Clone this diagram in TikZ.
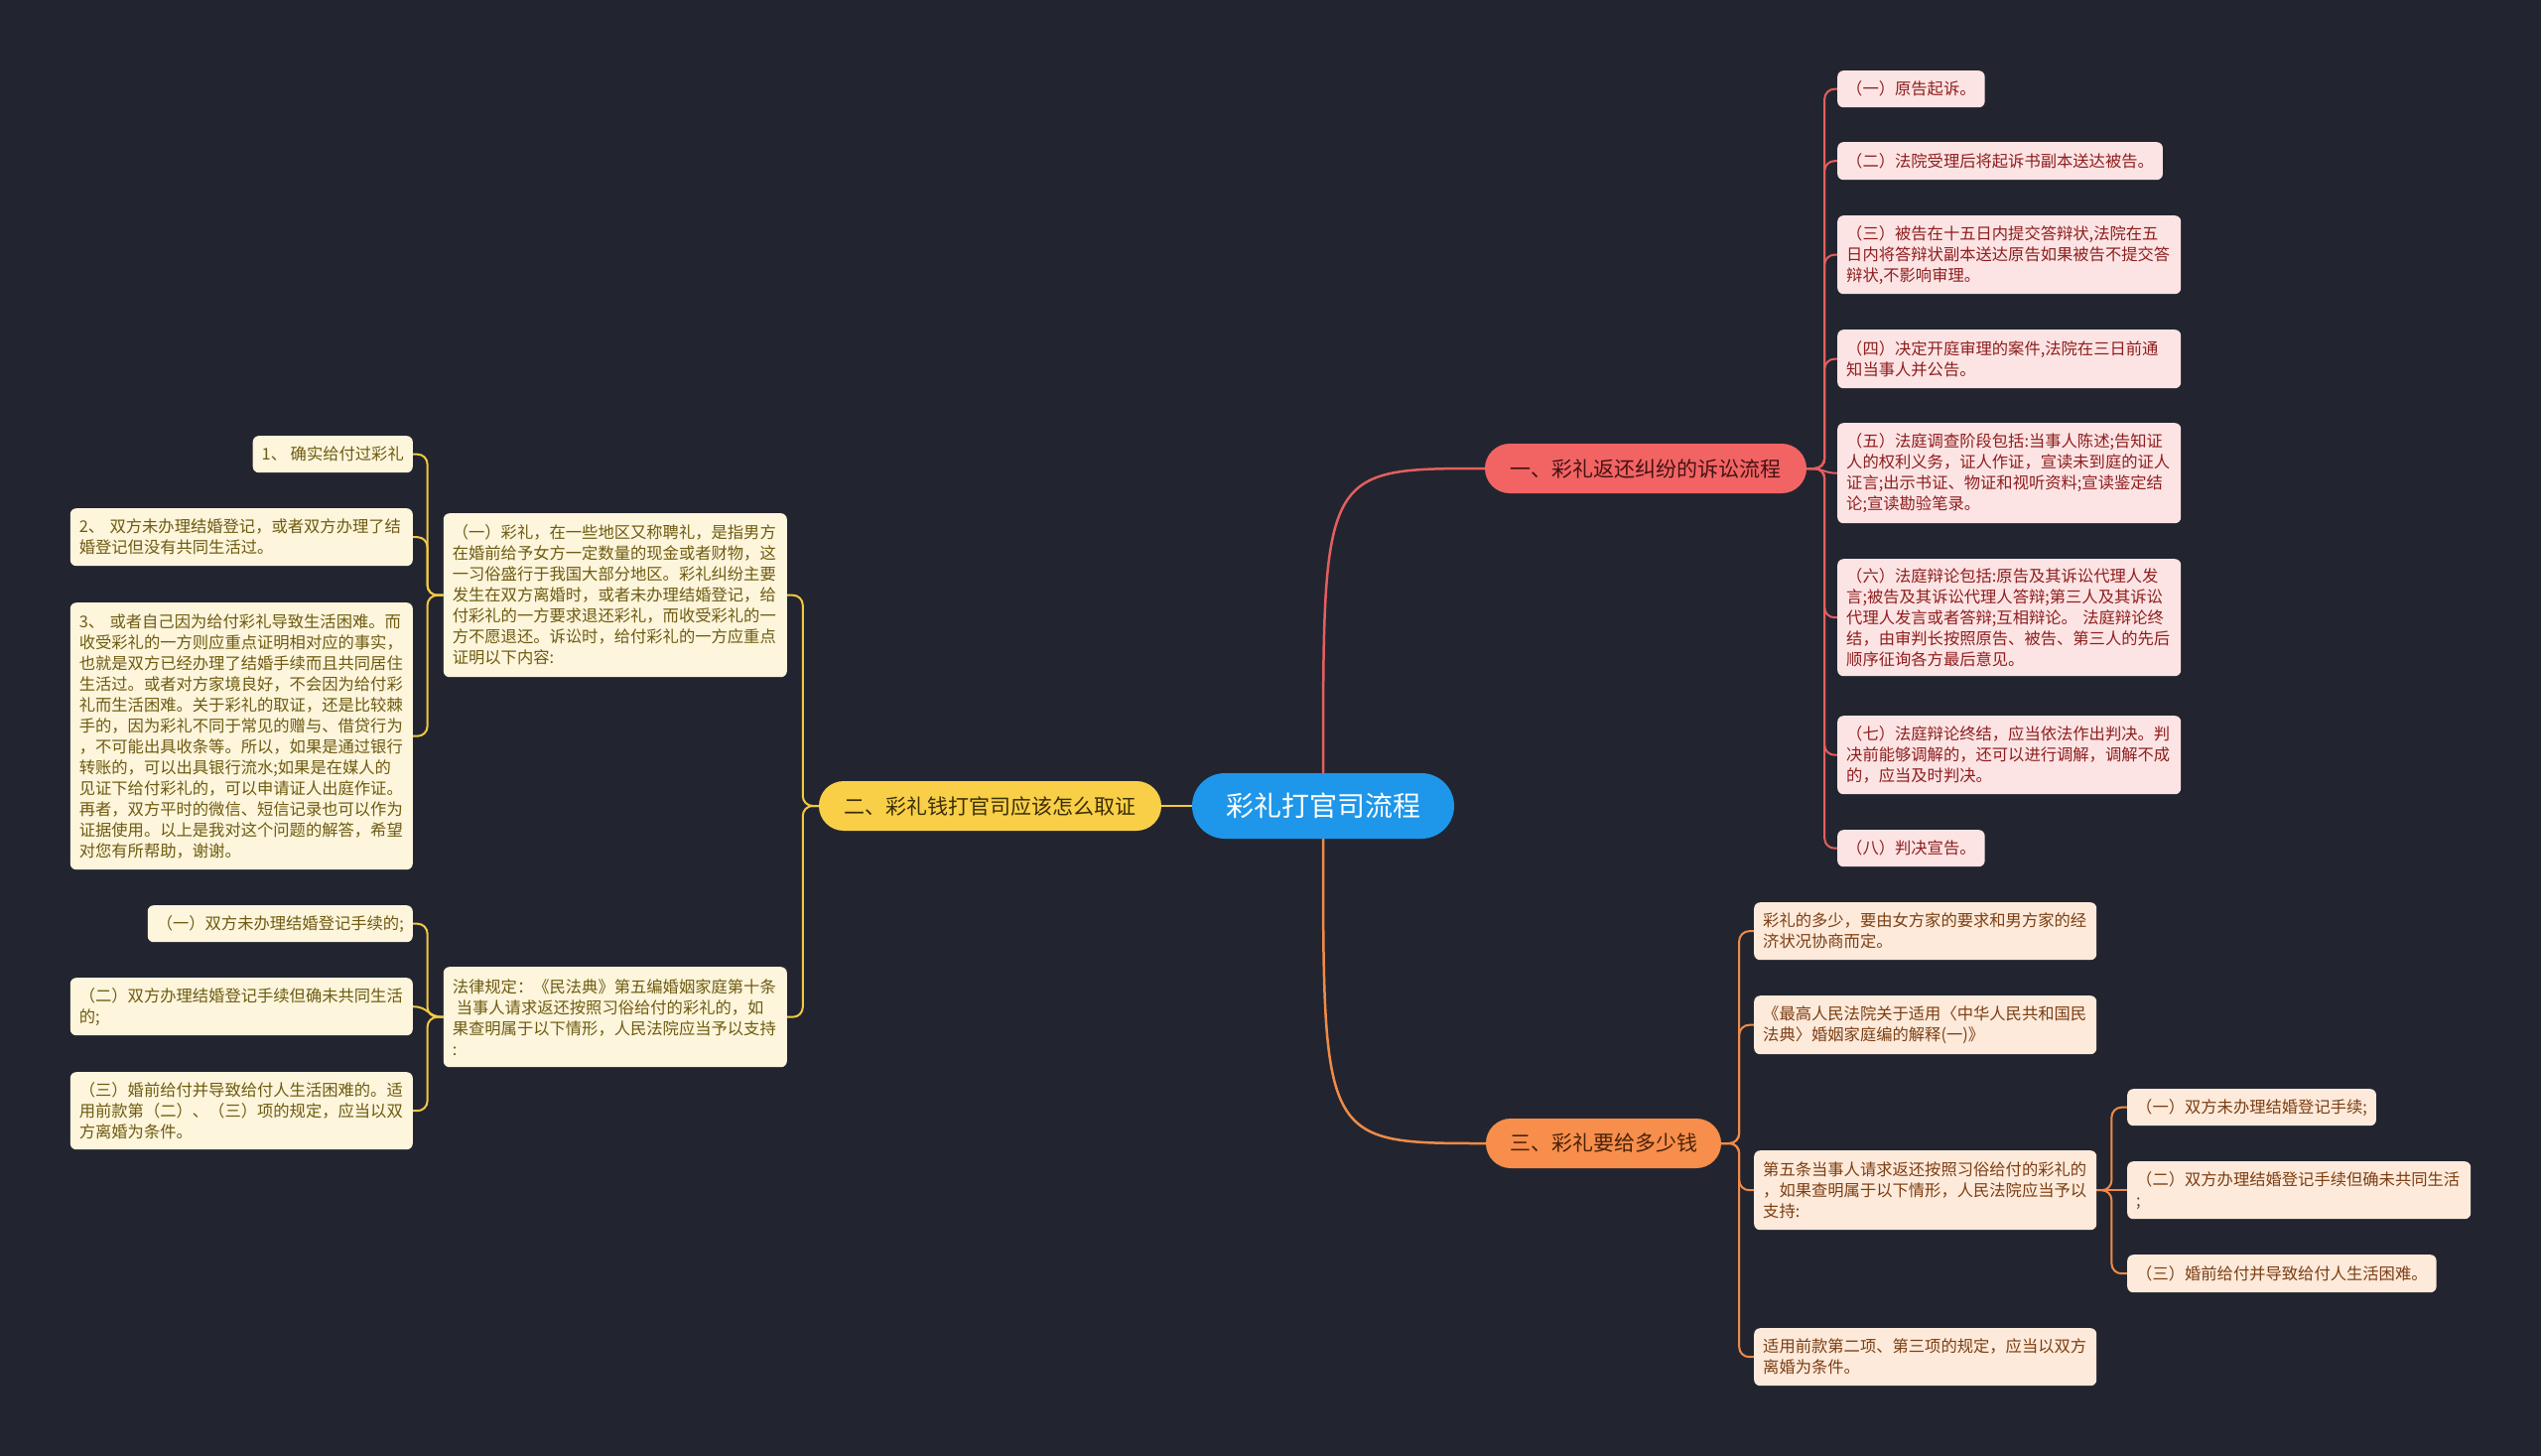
\documentclass[tikz,border=0pt]{standalone}
\usepackage{fontspec}
\setmainfont{Noto Sans CJK SC}
\definecolor{bgc}{HTML}{22252F}
\definecolor{cblue}{HTML}{1E96EA}
\definecolor{redB}{HTML}{F26464}
\definecolor{redBT}{HTML}{451212}
\definecolor{redL}{HTML}{FDE4E4}
\definecolor{redT}{HTML}{8E1E1E}
\definecolor{redC}{HTML}{E35F5F}
\definecolor{yelB}{HTML}{F9CF48}
\definecolor{yelBT}{HTML}{3A2F05}
\definecolor{yelL}{HTML}{FDF5DC}
\definecolor{yelT}{HTML}{6E5B10}
\definecolor{yelC}{HTML}{F3C843}
\definecolor{oraB}{HTML}{F78E4C}
\definecolor{oraBT}{HTML}{4A2208}
\definecolor{oraL}{HTML}{FDEADB}
\definecolor{oraT}{HTML}{7C3E12}
\definecolor{oraC}{HTML}{F08B47}
\pgfdeclarelayer{back}
\pgfdeclarelayer{edges}
\pgfsetlayers{back,edges,main}
\tikzset{
  leaf/.style={rounded corners=6pt, inner xsep=9pt, inner ysep=0pt, align=left,
    font=\fontsize{16.3}{21}\selectfont},
  rleaf/.style={leaf, anchor=north west, fill=redL, text=redT},
  oleaf/.style={leaf, anchor=north west, fill=oraL, text=oraT},
  yleaf/.style={leaf, anchor=north east, fill=yelL, text=yelT},
  branch/.style={rounded corners=25pt, inner sep=0pt, minimum height=50pt,
    font=\fontsize{21}{25}\selectfont},
  cnode/.style={rounded corners=33pt, inner sep=0pt, fill=cblue, text=white,
    font=\fontsize{28}{32}\selectfont},
  rcon/.style={draw=redC, line width=2pt, rounded corners=10pt},
  ocon/.style={draw=oraC, line width=2pt, rounded corners=10pt},
  ycon/.style={draw=yelC, line width=2pt, rounded corners=10pt},
}
\begin{document}
\begin{tikzpicture}[x=1pt,y=-1pt]
\begin{pgfonlayer}{back}
\fill[bgc] (0,0) rectangle (2560,1467);
\end{pgfonlayer}
\useasboundingbox (0,0) rectangle (2560,1467);

% center and branches
\node[cnode, minimum width=264pt, minimum height=66pt] (c) at (1333,812) {彩礼打官司流程};
\node[branch, fill=redB, text=redBT, minimum width=324pt] (b1) at (1658,472) {一、彩礼返还纠纷的诉讼流程};
\node[branch, fill=yelB, text=yelBT, minimum width=345pt] (b2) at (997.5,812) {二、彩礼钱打官司应该怎么取证};
\node[branch, fill=oraB, text=oraBT, minimum width=237pt] (b3) at (1615.5,1152) {三、彩礼要给多少钱};

% red leaves
\node[rleaf, minimum height=37pt] (r1) at (1851,71) {（一）原告起诉。};
\node[rleaf, minimum height=38pt] (r2) at (1851,143) {（二）法院受理后将起诉书副本送达被告。};
\node[rleaf, text width=328pt, minimum height=79pt] (r3) at (1851,217) {（三）被告在十五日内提交答辩状,法院在五\\日内将答辩状副本送达原告如果被告不提交答\\辩状,不影响审理。};
\node[rleaf, text width=328pt, minimum height=59pt] (r4) at (1851,332) {（四）决定开庭审理的案件,法院在三日前通\\知当事人并公告。};
\node[rleaf, text width=328pt, minimum height=101pt] (r5) at (1851,426) {（五）法庭调查阶段包括:当事人陈述;告知证\\人的权利义务，证人作证，宣读未到庭的证人\\证言;出示书证、物证和视听资料;宣读鉴定结\\论;宣读勘验笔录。};
\node[rleaf, text width=328pt, minimum height=118pt] (r6) at (1851,563) {（六）法庭辩论包括:原告及其诉讼代理人发\\言;被告及其诉讼代理人答辩;第三人及其诉讼\\代理人发言或者答辩;互相辩论。 法庭辩论终\\结，由审判长按照原告、被告、第三人的先后\\顺序征询各方最后意见。};
\node[rleaf, text width=328pt, minimum height=79pt] (r7) at (1851,721) {（七）法庭辩论终结，应当依法作出判决。判\\决前能够调解的，还可以进行调解，调解不成\\的，应当及时判决。};
\node[rleaf, minimum height=37pt] (r8) at (1851,836) {（八）判决宣告。};

% orange leaves
\node[oleaf, text width=327pt, minimum height=58pt] (o1) at (1767,909) {彩礼的多少，要由女方家的要求和男方家的经\\济状况协商而定。};
\node[oleaf, text width=327pt, minimum height=59pt] (o2) at (1767,1003) {《最高人民法院关于适用〈中华人民共和国民\\法典〉婚姻家庭编的解释(一)》};
\node[oleaf, text width=327pt, minimum height=80pt] (o3) at (1767,1159) {第五条当事人请求返还按照习俗给付的彩礼的\\，如果查明属于以下情形，人民法院应当予以\\支持:};
\node[oleaf, text width=327pt, minimum height=58pt] (o4) at (1767,1338) {适用前款第二项、第三项的规定，应当以双方\\离婚为条件。};
\node[oleaf, minimum height=37pt] (s1) at (2143,1097) {（一）双方未办理结婚登记手续;};
\node[oleaf, text width=328pt, minimum height=58pt] (s2) at (2143,1170) {（二）双方办理结婚登记手续但确未共同生活\\;};
\node[oleaf, minimum height=38pt] (s3) at (2143,1264) {（三）婚前给付并导致给付人生活困难。};

% yellow leaves
\node[yleaf, text width=328pt, minimum height=165pt] (y1) at (793,517) {（一）彩礼，在一些地区又称聘礼，是指男方\\在婚前给予女方一定数量的现金或者财物，这\\一习俗盛行于我国大部分地区。彩礼纠纷主要\\发生在双方离婚时，或者未办理结婚登记，给\\付彩礼的一方要求退还彩礼，而收受彩礼的一\\方不愿退还。诉讼时，给付彩礼的一方应重点\\证明以下内容:};
\node[yleaf, text width=328pt, minimum height=101pt] (y2) at (793,974) {法律规定：《民法典》第五编婚姻家庭第十条\\\hspace*{4pt}当事人请求返还按照习俗给付的彩礼的，如\\果查明属于以下情形，人民法院应当予以支持\\:};
\node[yleaf, minimum height=37pt] (y1a) at (416,439) {1、 确实给付过彩礼};
\node[yleaf, text width=327pt, minimum height=58pt] (y1b) at (416,512) {2、 双方未办理结婚登记，或者双方办理了结\\婚登记但没有共同生活过。};
\node[yleaf, text width=327pt, minimum height=269pt] (y1c) at (416,607) {3、 或者自己因为给付彩礼导致生活困难。而\\收受彩礼的一方则应重点证明相对应的事实，\\也就是双方已经办理了结婚手续而且共同居住\\生活过。或者对方家境良好，不会因为给付彩\\礼而生活困难。关于彩礼的取证，还是比较棘\\手的，因为彩礼不同于常见的赠与、借贷行为\\，不可能出具收条等。所以，如果是通过银行\\转账的，可以出具银行流水;如果是在媒人的\\见证下给付彩礼的，可以申请证人出庭作证。\\再者，双方平时的微信、短信记录也可以作为\\证据使用。以上是我对这个问题的解答，希望\\对您有所帮助，谢谢。};
\node[yleaf, minimum height=37pt] (y2a) at (416,912) {（一）双方未办理结婚登记手续的;};
\node[yleaf, text width=327pt, minimum height=58pt] (y2b) at (416,985) {（二）双方办理结婚登记手续但确未共同生活\\的;};
\node[yleaf, text width=327pt, minimum height=78pt] (y2c) at (416,1080) {（三）婚前给付并导致给付人生活困难的。适\\用前款第（二）、（三）项的规定，应当以双\\方离婚为条件。};

% connectors
\begin{pgfonlayer}{edges}
\draw[rcon, line width=2.5pt] (c.north) .. controls (c.north |- b1.west) .. (b1.west);
\draw[ocon, line width=2.5pt] (c.south) .. controls (c.south |- b3.west) .. (b3.west);
\draw[ycon, line width=2.5pt] (c.west) -- (b2.east);
\foreach \n in {r1,r2,r3,r4,r6,r7,r8} \draw[rcon] (b1.east) -- ++(18,0) |- (\n.west);
\draw[rcon] (b1.east) .. controls +(18,0) and +(-14,0) .. (r5.west);
\foreach \n in {o1,o2,o3,o4} \draw[ocon] (b3.east) -- ++(18,0) |- (\n.west);
\foreach \n in {s1,s3} \draw[ocon] (o3.east) -- ++(15,0) |- (\n.west);
\draw[ocon] (o3.east) -- (s2.west);
\foreach \n in {y1,y2} \draw[ycon] (b2.west) -- ++(-16,0) |- (\n.east);
\foreach \n in {y1a,y1b,y1c} \draw[ycon] (y1.west) -- ++(-16,0) |- (\n.east);
\foreach \n in {y2a,y2c} \draw[ycon] (y2.west) -- ++(-16,0) |- (\n.east);
\draw[ycon] (y2.west) .. controls +(-16,0) and +(16,0) .. (y2b.east);
\end{pgfonlayer}
\end{tikzpicture}
\end{document}
